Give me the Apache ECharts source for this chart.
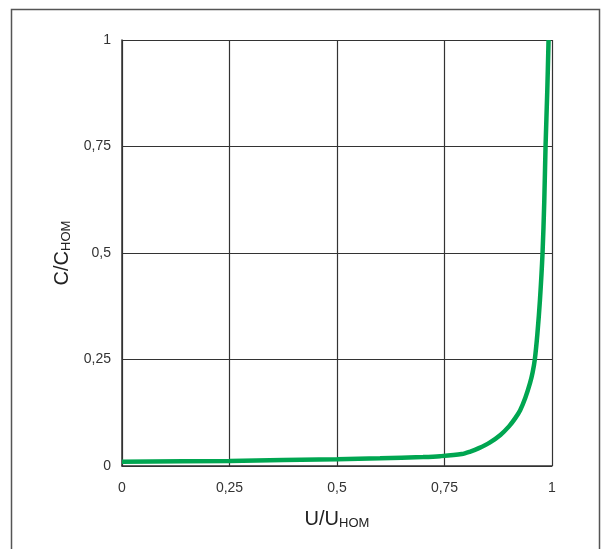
<!DOCTYPE html>
<html><head><meta charset="utf-8">
<script src="https://cdn.jsdelivr.net/npm/echarts@6/dist/echarts.min.js"></script>
<style>html,body{margin:0;padding:0;background:#fff}#c{width:605px;height:549px}</style>
</head><body><div id="c"></div>
<script>
const uValues = [0, 0.25, 0.5, 0.6, 0.7, 0.74, 0.79, 0.81, 0.83, 0.855, 0.88, 0.9, 0.915, 0.926, 0.938, 0.949, 0.955, 0.96, 0.966, 0.972, 0.978, 0.982, 0.985, 0.989, 0.992];
const cValues = [0.010, 0.012, 0.016, 0.018, 0.021, 0.023, 0.028, 0.034, 0.042, 0.055, 0.073, 0.093, 0.113, 0.131, 0.16, 0.195, 0.22, 0.25, 0.31, 0.39, 0.5, 0.62, 0.75, 0.88, 1.0];
const xTickLabels = ['0', '0,25', '0,5', '0,75', '1'];
const yTickLabels = ['0', '0,25', '0,5', '0,75', '1'];

const chart = echarts.init(document.getElementById('c'), null, {renderer: 'canvas'});
const font = '"Liberation Sans", Arial, sans-serif';
const tickIdx = v => Math.round(v / 0.25);
chart.setOption({
  animation: false,
  graphic: [{
    type: 'rect', shape: {x: 11.5, y: 9.5, width: 588, height: 560},
    style: {fill: 'none', stroke: '#555', lineWidth: 1.5}, z: 0
  }],
  grid: {left: 122, right: 53, top: 40, bottom: 83},
  xAxis: {
    type: 'value', min: 0, max: 1, interval: 0.25,
    axisLine: {show: true, onZero: false, lineStyle: {color: '#333', width: 1.5}},
    axisTick: {show: false},
    splitLine: {show: true, lineStyle: {color: '#333', width: 1.2}},
    axisLabel: {margin: 15, color: '#333', fontSize: 14, fontFamily: font,
      formatter: v => xTickLabels[tickIdx(v)]},
    name: '{a|U/U}{b|HOM}', nameLocation: 'middle', nameGap: 43,
    nameTextStyle: {rich: {
      a: {fontSize: 20, fontFamily: font, color: '#222'},
      b: {fontSize: 13, fontFamily: font, color: '#222', verticalAlign: 'bottom', padding: [8, 0, 0, 0]}
    }}
  },
  yAxis: {
    type: 'value', min: 0, max: 1, interval: 0.25,
    axisLine: {show: true, onZero: false, lineStyle: {color: '#333', width: 1.5}},
    axisTick: {show: false},
    splitLine: {show: true, lineStyle: {color: '#333', width: 1.2}},
    axisLabel: {margin: 11, color: '#333', fontSize: 14, fontFamily: font,
      formatter: v => yTickLabels[tickIdx(v)]},
    name: '{a|C/C}{b|HOM}', nameLocation: 'middle', nameGap: 48, nameRotate: 90,
    nameTextStyle: {rich: {
      a: {fontSize: 20, fontFamily: font, color: '#222'},
      b: {fontSize: 13, fontFamily: font, color: '#222', verticalAlign: 'bottom', padding: [8, 0, 0, 0]}
    }}
  },
  series: [{
    type: 'line', showSymbol: false, smooth: 0.3,
    lineStyle: {color: '#00a651', width: 4.5},
    data: uValues.map((u, i) => [u, cValues[i]]),
    z: 5
  }]
});
</script></body></html>
